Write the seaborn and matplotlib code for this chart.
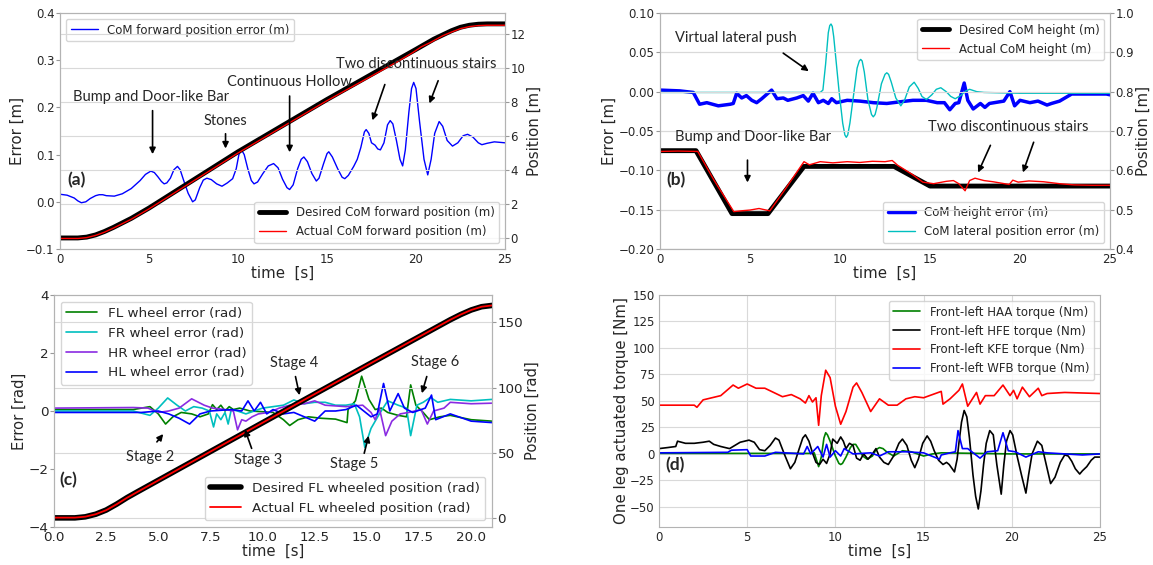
import matplotlib
matplotlib.use("Agg")
import matplotlib.pyplot as plt
from matplotlib.ticker import MultipleLocator
import seaborn as sns

# ---------------- (a) CoM forward ----------------
a_t = [0, 0.4, 0.8, 1.0, 1.2, 1.45, 1.7, 2.0, 2.2, 2.4, 2.6, 3.05, 3.5, 4.0, 4.5, 4.8, 5.1, 5.3, 5.5, 5.7, 5.85,
       6.0, 6.2, 6.4, 6.6, 6.75, 6.95, 7.2, 7.45, 7.6, 7.85, 8.05, 8.25, 8.5, 8.8, 9.1, 9.4, 9.7, 9.9, 10.05,
       10.2, 10.35, 10.55, 10.75, 10.9, 11.1, 11.4, 11.7, 12.0, 12.25, 12.5, 12.75, 12.9, 13.1, 13.35, 13.55,
       13.7, 13.9, 14.15, 14.4, 14.55, 14.8, 15.0, 15.1, 15.3, 15.6, 15.85, 16.0, 16.2, 16.5, 16.7, 16.9, 17.1,
       17.2, 17.35, 17.5, 17.7, 17.85, 18.0, 18.2, 18.4, 18.55, 18.7, 18.9, 19.1, 19.25, 19.4, 19.6, 19.75,
       19.87, 20.0, 20.2, 20.45, 20.66, 20.85, 21.05, 21.3, 21.5, 21.75, 22.05, 22.35, 22.65, 22.9, 23.2, 23.5,
       23.7, 24.0, 24.4, 25]
a_err = [0.016, 0.014, 0.008, 0.002, -0.002, 0.0, 0.007, 0.013, 0.015, 0.015, 0.013, 0.012, 0.017, 0.028, 0.045,
         0.058, 0.065, 0.062, 0.053, 0.043, 0.038, 0.04, 0.05, 0.068, 0.075, 0.068, 0.045, 0.018, 0.0, 0.004,
         0.03, 0.046, 0.05, 0.047, 0.038, 0.033, 0.04, 0.049, 0.07, 0.1, 0.11, 0.1, 0.07, 0.045, 0.038, 0.042,
         0.06, 0.076, 0.081, 0.072, 0.048, 0.03, 0.026, 0.036, 0.07, 0.09, 0.095, 0.085, 0.06, 0.044, 0.05,
         0.08, 0.102, 0.106, 0.095, 0.07, 0.052, 0.049, 0.056, 0.075, 0.09, 0.115, 0.148, 0.153, 0.145, 0.125,
         0.12, 0.112, 0.11, 0.125, 0.163, 0.172, 0.165, 0.13, 0.09, 0.076, 0.11, 0.19, 0.24, 0.253, 0.24, 0.17,
         0.09, 0.057, 0.09, 0.145, 0.17, 0.16, 0.13, 0.118, 0.125, 0.14, 0.143, 0.137, 0.125, 0.121, 0.124,
         0.127, 0.125]
a_pos_t = [0, 1.0, 1.5, 2.0, 2.5, 3.0, 4.0, 5.0, 10.0, 15.0, 20.0, 21.0, 22.0, 22.5, 23.0, 23.5, 24.0, 25.0]
a_pos_des = [0, 0.0, 0.05, 0.18, 0.38, 0.62, 1.15, 1.76, 5.07, 8.15, 11.1, 11.7, 12.2, 12.4, 12.52, 12.58, 12.6, 12.6]
a_act_t = [0, 1.0, 1.5, 2.0, 2.5, 3.0, 4.0, 5.0, 10.0, 15.0, 19.0, 19.8, 20.3, 20.8, 21.5, 22.0, 22.5, 23.0, 23.5,
           24.0, 25.0]
a_pos_act = [-0.03, -0.03, 0.02, 0.15, 0.34, 0.58, 1.1, 1.71, 5.0, 8.08, 10.4, 10.9, 11.25, 11.5, 11.9, 12.12,
             12.32, 12.44, 12.5, 12.52, 12.52]

# ---------------- (b) CoM height ----------------
b_des_t = [0, 2, 4, 6, 8, 13, 15, 25]
b_des = [0.65, 0.65, 0.49, 0.49, 0.61, 0.61, 0.56, 0.56]
b_act_t = [0, 1.0, 2.1, 3.0, 4.1, 4.5, 5.0, 5.5, 5.8, 6.1, 7.0, 8.0, 8.3, 8.9, 9.6, 10.4, 11.1, 11.8, 12.5, 12.9,
           13.2, 14.0, 14.6, 15.2, 15.9, 16.3, 16.6, 16.95, 17.2, 17.5, 18.0, 18.5, 19.4, 19.6, 19.9, 20.5, 21.3,
           22.2, 23.0, 24.0, 25.0]
b_act = [0.648, 0.649, 0.648, 0.575, 0.495, 0.497, 0.499, 0.503, 0.5, 0.497, 0.555, 0.622, 0.614, 0.622, 0.619,
         0.622, 0.62, 0.623, 0.622, 0.625, 0.613, 0.59, 0.57, 0.566, 0.572, 0.574, 0.566, 0.548, 0.574, 0.58,
         0.574, 0.571, 0.564, 0.575, 0.57, 0.573, 0.571, 0.566, 0.563, 0.562, 0.562]
b_err_t = [0, 1.1, 1.85, 2.2, 2.6, 3.24, 3.9, 4.07, 4.26, 4.54, 4.8, 5.1, 5.37, 5.65, 6.2, 6.5, 6.85, 7.1, 7.6,
           7.96, 8.24, 8.5, 8.8, 9.07, 9.35, 9.54, 9.8, 10.4, 11.1, 11.85, 12.6, 13.3, 14.05, 14.8, 15.4, 15.8,
           16.1, 16.4, 16.6, 16.9, 17.1, 17.4, 17.8, 18.05, 18.3, 19.1, 19.44, 19.7, 20.0, 20.55, 21.0, 21.5, 21.75,
           22.2, 22.87, 23.3, 24.8, 25]
b_err = [0.002, 0.001, -0.001, -0.016, -0.014, -0.018, -0.016, -0.015, -0.002, -0.008, -0.005, -0.011, -0.014,
         -0.009, 0.002, -0.009, -0.008, -0.011, -0.008, -0.005, -0.012, -0.002, -0.014, -0.011, -0.015, -0.009,
         -0.014, -0.011, -0.012, -0.014, -0.015, -0.013, -0.011, -0.011, -0.014, -0.014, -0.023, -0.015, -0.014,
         0.011, -0.011, -0.022, -0.015, -0.020, -0.015, -0.012, 0.0, -0.018, -0.011, -0.014, -0.012, -0.017,
         -0.015, -0.012, -0.003, -0.003, -0.003, -0.004]
b_lat_t = [0, 3, 6, 8.9, 9.05, 9.2, 9.35, 9.43, 9.5, 9.57, 9.65, 9.8, 9.95, 10.15, 10.27, 10.35, 10.43, 10.55,
           10.75, 10.95, 11.07, 11.15, 11.23, 11.35, 11.55, 11.75, 11.85, 11.95, 12.05, 12.3, 12.5, 12.6, 12.7,
           12.85, 13.1, 13.38, 13.6, 13.85, 14.12, 14.35, 14.55, 14.8, 15.1, 15.35, 15.6, 15.9, 16.15, 16.4, 16.7,
           17.0, 17.2, 17.6, 18.0, 20.0, 25]
b_lat = [-0.001, -0.001, -0.001, -0.001, 0.002, 0.035, 0.075, 0.084, 0.086, 0.083, 0.07, 0.035, 0.0, -0.04,
         -0.055, -0.058, -0.055, -0.04, -0.005, 0.03, 0.039, 0.041, 0.039, 0.025, -0.01, -0.029, -0.032, -0.029,
         -0.02, 0.01, 0.022, 0.024, 0.022, 0.012, -0.008, -0.018, -0.01, 0.006, 0.012, 0.004, -0.006, -0.010,
         -0.004, 0.003, 0.005, 0.0, -0.006, -0.009, -0.005, 0.001, 0.003, 0.0, -0.001, -0.002, -0.002]

# ---------------- (c) wheels ----------------
c_fl_t = [0, 3.8, 4.6, 5.0, 5.35, 5.7, 6.1, 6.6, 7.0, 7.4, 7.6, 7.8, 8.0, 8.2, 8.4, 8.6, 8.9, 9.4, 9.9, 10.5,
          11.0, 11.3, 11.7, 12.2, 12.8, 13.5, 14.05, 14.1, 14.45, 14.75, 15.1, 15.4, 15.7, 16.0, 16.5, 16.9, 17.1,
          17.35, 17.7, 18.0, 18.5, 19.0, 20.0, 21.0]
c_fl = [0.05, 0.05, 0.15, -0.1, -0.45, -0.2, -0.05, -0.1, -0.2, -0.1, 0.22, 0.05, 0.2, 0.0, 0.15, 0.05, 0.1, 0.0,
        -0.02, -0.05, -0.3, -0.5, -0.3, -0.2, -0.25, -0.28, -0.4, 0.05, 0.35, 1.2, 0.4, 0.05, 0.1, -0.05, -0.15,
        -0.2, 0.9, 0.2, -0.05, -0.3, -0.2, -0.15, -0.3, -0.35]
c_fr_t = [0, 3.8, 4.6, 5.0, 5.45, 5.9, 6.3, 6.7, 7.1, 7.45, 7.65, 7.8, 8.0, 8.2, 8.35, 8.5, 8.8, 9.2, 9.6, 10.0,
          10.5, 11.0, 11.5, 12.0, 12.5, 13.0, 13.5, 14.0, 14.4, 14.65, 14.9, 15.2, 15.6, 16.0, 16.5, 16.9, 17.1,
          17.4, 17.7, 18.05, 18.4, 19.0, 20.0, 21.0]
c_fr = [0.0, 0.0, -0.15, 0.1, 0.45, 0.2, 0.0, 0.15, 0.1, 0.0, -0.55, -0.1, -0.3, -0.05, -0.45, 0.05, 0.0, -0.1,
        0.0, 0.1, 0.15, 0.2, 0.38, 0.25, 0.3, 0.3, 0.2, 0.2, 0.25, -0.2, -1.25, -0.6, -0.1, 0.35, 0.2, 0.1, -0.85,
        0.2, 0.3, 0.47, 0.3, 0.4, 0.35, 0.4]
c_hr_t = [0, 3.8, 4.5, 5.0, 5.5, 6.0, 6.6, 7.2, 7.6, 8.2, 8.6, 8.8, 9.0, 9.2, 9.5, 9.8, 10.3, 10.8, 11.3, 12.0,
          12.5, 13.0, 14.0, 14.8, 15.2, 15.4, 15.6, 15.9, 16.2, 16.6, 17.0, 17.6, 17.9, 18.2, 18.7, 19.0, 20.0, 21.0]
c_hr = [0.1, 0.12, 0.1, -0.05, 0.0, 0.1, 0.42, 0.2, 0.1, 0.05, 0.0, -0.65, -0.3, -0.35, -0.2, -0.1, -0.05, 0.1,
        0.2, 0.25, 0.35, 0.2, 0.15, 0.2, -0.05, -0.3, 0.1, -0.85, -0.35, -0.1, -0.05, 0.05, -0.45, 0.0, 0.1, 0.3,
        0.25, 0.27]
c_hl_t = [0, 4.2, 5.0, 5.5, 6.0, 6.5, 7.0, 7.5, 8.5, 9.0, 9.3, 9.6, 9.9, 10.2, 10.5, 11.0, 11.5, 12.0, 12.5, 13.0,
          13.5, 14.0, 14.5, 15.2, 15.5, 15.8, 16.1, 16.5, 16.8, 17.2, 17.8, 18.1, 18.3, 19.0, 20.0, 21.0]
c_hl = [-0.05, -0.05, 0.0, -0.1, -0.25, -0.45, -0.1, 0.0, 0.05, 0.0, 0.35, 0.0, 0.3, -0.1, 0.05, -0.1, -0.05, -0.2,
        -0.35, 0.0, 0.0, 0.05, 0.2, -0.2, -0.1, 0.95, 0.0, 0.6, 0.1, -0.05, 0.1, 0.55, -0.3, -0.1, -0.35, -0.4]
c_pos_t = [0, 1.0, 1.5, 2.0, 2.5, 3.0, 3.5, 4.0, 10.0, 15.0, 19.0, 19.5, 20.0, 20.5, 21.0]
c_pos_des = [0, 0.0, 0.8, 2.8, 6.0, 10.5, 15.5, 20.0, 73.0, 117.0, 152.0, 156.0, 159.5, 162.0, 163.0]
c_pos_act = [0.2, 0.2, 0.9, 2.8, 5.9, 10.4, 15.4, 19.9, 73.0, 117.0, 152.0, 156.0, 159.5, 162.0, 163.0]

# ---------------- (d) torques ----------------
d_haa_t = [0, 8.5, 8.8, 9.05, 9.2, 9.35, 9.45, 9.55, 9.7, 10.0, 10.2, 10.3, 10.4, 10.6, 10.85, 11.0, 11.15, 11.3,
           11.55, 11.8, 12.1, 12.3, 12.5, 12.7, 12.9, 13.3, 13.8, 14.3, 15.0, 15.5, 16.0, 20.0, 25.0]
d_haa = [0.5, 0.5, 1, -12, -3, 15, 20, 18, 12, -2, -9, -10, -9, -3, 6, 9, 9, 5, -2, -5, -2, 4, 6, 5, 2, -2, 3, 2,
         -2, 0, 1, 0, 0]
d_hfe_t = [0, 0.5, 0.95, 1.05, 1.5, 2.0, 2.5, 2.85, 3.1, 3.5, 4.0, 4.3, 4.6, 5.1, 5.4, 5.7, 6.0, 6.3, 6.6, 6.8,
           7.1, 7.45, 7.7, 7.95, 8.15, 8.3, 8.5, 8.7, 8.9, 9.1, 9.3, 9.5, 9.7, 9.85, 10.1, 10.3, 10.45, 10.6, 10.8,
           11.0, 11.2, 11.4, 11.6, 11.85, 12.1, 12.3, 12.5, 12.75, 13.0, 13.3, 13.6, 13.8, 14.05, 14.3, 14.5, 14.7,
           14.95, 15.2, 15.4, 15.6, 15.85, 16.1, 16.3, 16.45, 16.75, 16.9, 17.0, 17.15, 17.3, 17.45, 17.6, 17.8,
           17.95, 18.1, 18.25, 18.4, 18.55, 18.75, 18.95, 19.15, 19.4, 19.55, 19.7, 19.9, 20.05, 20.3, 20.55,
           20.8, 20.95, 21.15, 21.45, 21.7, 21.95, 22.2, 22.45, 22.75, 23.0, 23.2, 23.4, 23.6, 23.85, 24.0, 24.25,
           24.5, 24.7, 25.0]
d_hfe = [5, 6, 7, 12, 10, 10, 11, 12, 9, 7, 5, 8, 11, 13, 11, 4, 3, 8, 15, 13, 0, -14, -8, 5, 15, 18, 12, 1, -8,
         -10, -5, -9, 0, 14, 10, 16, 12, 5, 10, 8, -4, -6, 0, -5, 0, 5, -3, -8, -10, -2, 10, 14, 8, -6, -13, -5,
         10, 17, 12, 3, -6, -10, -8, -10, -17, -5, 10, 30, 41, 35, 15, -20, -40, -52, -35, -10, 10, 22, 18, -10,
         -38, -10, 12, 22, 18, -2, -20, -37, -20, 0, 12, 8, -10, -28, -22, -8, -1, -2, -7, -14, -19, -16, -12,
         -6, -3, -3]
d_kfe_t = [0, 1.0, 2.0, 2.15, 2.5, 3.0, 3.5, 4.2, 4.5, 5.0, 5.5, 6.0, 6.5, 7.0, 7.5, 8.0, 8.3, 8.5, 8.7, 8.9,
           9.05, 9.2, 9.45, 9.7, 10.0, 10.3, 10.6, 11.0, 11.2, 11.5, 12.0, 12.5, 13.0, 13.5, 14.0, 14.5, 15.0, 15.5,
           16.0, 16.1, 16.5, 17.0, 17.2, 17.5, 18.0, 18.2, 18.5, 19.0, 19.5, 19.9, 20.1, 20.3, 20.6, 21.0, 21.5,
           21.7, 22.0, 23.0, 25.0]
d_kfe = [46, 46, 46, 44, 51, 53, 55, 65, 62, 66, 62, 62, 58, 54, 56, 52, 48, 55, 49, 53, 27, 55, 79, 72, 45, 28,
         40, 63, 67, 58, 40, 52, 46, 46, 52, 54, 53, 56, 59, 47, 52, 60, 66, 45, 58, 47, 55, 55, 65, 55, 60, 52,
         63, 54, 62, 55, 57, 58, 57]
d_wfb_t = [0, 3.9, 4.1, 5.0, 5.2, 6.0, 6.6, 8.2, 8.4, 8.6, 9.0, 9.3, 9.5, 9.7, 10.0, 10.3, 10.5, 11.0, 12.0, 12.5,
           13.0, 14.0, 15.0, 15.9, 16.0, 16.5, 16.8, 16.95, 17.2, 17.5, 18.2, 18.6, 19.2, 19.5, 19.8, 20.2, 20.8,
           21.5, 22.0, 23.0, 24.0, 25.0]
d_wfb = [1, 1.5, 3.5, 4, -2, -2, 1.5, 0, 7, 0, 7, -3, 9, -3, 3, -2, 5, 0, 1, -2, 2, 2, 1, -5, -1, 1, 2, 22, 5, 5,
         -4, 2, 3, 20, 3, 2, -3, 2, 1, 0, -1, 0]

sns.set_style("whitegrid")
plt.rcParams['font.family'] = ['DejaVu Sans']
plt.rcParams['axes.edgecolor'] = '0.7'
plt.rcParams['grid.color'] = '0.85'

W, H = 1153, 565
fig = plt.figure(figsize=(W / 100, H / 100), dpi=100)


def box(l, r, t, b):
    return [l / W, (H - b) / H, (r - l) / W, (b - t) / H]


def line(ax, x, y, color, lw, label):
    sns.lineplot(x=x, y=y, ax=ax, color=color, linewidth=lw, label=label)


ann_font = dict(family=['Lato', 'DejaVu Sans'], fontsize=10.5)
arrow = dict(arrowstyle='-|>', color='k', lw=1.2, mutation_scale=9)
tag_font = dict(fontsize=12.5, fontweight='bold', family=['Lato', 'DejaVu Sans'])


def note(ax, ref, text, pos, arrows):
    ax.text(pos[0], pos[1], text, transform=ref.transData, ha='center', va='center', **ann_font)
    for s, e in arrows:
        ax.annotate('', xy=e, xytext=s, xycoords=ref.transData, textcoords=ref.transData, arrowprops=arrow)


def style(ax1, ax2, tick_fs, lab_fs, ylab1, ylab2):
    for ax in (ax1, ax2):
        ax.tick_params(axis='y', labelsize=tick_fs, length=3, color='0.6', pad=1)
        ax.tick_params(axis='x', labelsize=tick_fs, length=0, pad=3)
        ax.xaxis.grid(False)
    ax1.set_xlabel("time  [s]", fontsize=lab_fs, labelpad=0)
    ax1.set_ylabel(ylab1, fontsize=lab_fs, labelpad=1)
    ax2.set_ylabel(ylab2, fontsize=lab_fs, labelpad=1)


# ----- (a)
ax1 = fig.add_axes(box(60, 505, 13, 249))
ax2 = ax1.twinx()
line(ax1, a_t, a_err, 'blue', 1.0, 'CoM forward position error (m)')
line(ax2, a_pos_t, a_pos_des, 'black', 3.5, 'Desired CoM forward position (m)')
line(ax2, a_act_t, a_pos_act, 'red', 1.0, 'Actual CoM forward position (m)')
ax1.set_xlim(0, 25)
ax1.set_ylim(-0.1, 0.4)
ax2.set_ylim(-0.65, 13.24)
ax1.yaxis.grid(False)
style(ax1, ax2, 8.5, 10.8, "Error [m]", "Position [m]")
ax1.legend(loc='upper left', fontsize=8.5, handlelength=2.3)
ax2.legend(loc='lower right', fontsize=8.5, handlelength=2.3)
note(ax2, ax1, "Bump and Door-like Bar", (5.1, 0.222), [((5.2, 0.199), (5.2, 0.095))])
note(ax2, ax1, "Stones", (9.3, 0.171), [((9.3, 0.15), (9.3, 0.107))])
note(ax2, ax1, "Continuous Hollow", (12.9, 0.254), [((12.9, 0.23), (12.9, 0.099))])
note(ax2, ax1, "Two discontinuous stairs", (20.0, 0.292),
     [((18.3, 0.254), (17.5, 0.167)), ((21.3, 0.262), (20.7, 0.203))])
ax2.text(0.95, 0.046, "(a)", transform=ax1.transData, ha='center', va='center', **tag_font)

# ----- (b)
bx1 = fig.add_axes(box(660, 1110, 13, 249))
bx2 = bx1.twinx()
line(bx1, b_err_t, b_err, 'blue', 2.5, 'CoM height error (m)')
line(bx1, b_lat_t, b_lat, 'c', 1.0, 'CoM lateral position error (m)')
line(bx2, b_des_t, b_des, 'black', 3.5, 'Desired CoM height (m)')
line(bx2, b_act_t, b_act, 'red', 1.0, 'Actual CoM height (m)')
bx1.set_xlim(0, 25)
bx1.set_ylim(-0.2, 0.1)
bx2.set_ylim(0.4, 1.0)
style(bx1, bx2, 8.5, 10.8, "Error [m]", "Position [m]")
bx1.legend(loc='lower right', fontsize=8.5, handlelength=2.3)
bx2.legend(loc='upper right', fontsize=8.5, handlelength=2.3)
note(bx2, bx1, "Virtual lateral push", (4.22, 0.068), [((6.72, 0.051), (8.39, 0.024))])
note(bx2, bx1, "Bump and Door-like Bar", (5.17, -0.058), [((4.86, -0.0835), (4.86, -0.119))])
note(bx2, bx1, "Two discontinuous stairs", (19.33, -0.045),
     [((18.42, -0.065), (17.61, -0.106)), ((20.81, -0.061), (20.11, -0.106))])
bx2.text(0.89, -0.112, "(b)", transform=bx1.transData, ha='center', va='center', **tag_font)

# ----- (c)
cx1 = fig.add_axes(box(54, 492, 295, 527))
cx2 = cx1.twinx()
line(cx1, c_fl_t, c_fl, 'green', 1.2, 'FL wheel error (rad)')
line(cx1, c_fr_t, c_fr, 'c', 1.2, 'FR wheel error (rad)')
line(cx1, c_hr_t, c_hr, 'blueviolet', 1.2, 'HR wheel error (rad)')
line(cx1, c_hl_t, c_hl, 'blue', 1.2, 'HL wheel error (rad)')
line(cx2, c_pos_t, c_pos_des, 'black', 4.0, 'Desired FL wheeled position (rad)')
line(cx2, c_pos_t, c_pos_act, 'red', 1.3, 'Actual FL wheeled position (rad)')
cx1.set_xlim(0, 21)
cx1.set_ylim(-4, 4)
cx2.set_ylim(-7, 171)
cx1.yaxis.set_major_locator(MultipleLocator(2))
cx2.yaxis.set_major_locator(MultipleLocator(50))
cx1.yaxis.grid(False)
style(cx1, cx2, 9.7, 10.6, "Error [rad]", "Position [rad]")
cx1.legend(loc='upper left', fontsize=9.7, handlelength=2.3)
cx2.legend(loc='lower right', fontsize=9.7, handlelength=2.3)
note(cx2, cx1, "Stage 2", (4.6, -1.59), [((4.85, -1.14), (5.32, -0.72))])
note(cx2, cx1, "Stage 3", (9.78, -1.69), [((9.52, -1.38), (9.11, -0.55))])
note(cx2, cx1, "Stage 4", (11.51, 1.66), [((11.55, 1.28), (11.8, 0.45))])
note(cx2, cx1, "Stage 5", (14.41, -1.83), [((14.84, -1.55), (15.12, -0.76))])
note(cx2, cx1, "Stage 6", (18.27, 1.69), [((17.91, 1.28), (17.6, 0.52))])
cx2.text(0.71, -2.38, "(c)", transform=cx1.transData, ha='center', va='center', **tag_font)

# ----- (d)
dx = fig.add_axes(box(659, 1100, 295, 527))
line(dx, d_haa_t, d_haa, 'green', 1.2, 'Front-left HAA torque (Nm)')
line(dx, d_hfe_t, d_hfe, 'black', 1.2, 'Front-left HFE torque (Nm)')
line(dx, d_kfe_t, d_kfe, 'red', 1.2, 'Front-left KFE torque (Nm)')
line(dx, d_wfb_t, d_wfb, 'blue', 1.2, 'Front-left WFB torque (Nm)')
dx.set_xlim(0, 25)
dx.set_ylim(-69, 150)
dx.tick_params(labelsize=8.5, length=0, pad=3)
dx.set_xlabel("time  [s]", fontsize=10.8, labelpad=0)
dx.set_ylabel("One leg actuated torque [Nm]", fontsize=10.8, labelpad=1)
dx.legend(loc='upper right', fontsize=8.5, handlelength=2.3)
dx.text(0.92, -10.4, "(d)", ha='center', va='center', **tag_font)

fig.savefig("out.png", dpi=100)
